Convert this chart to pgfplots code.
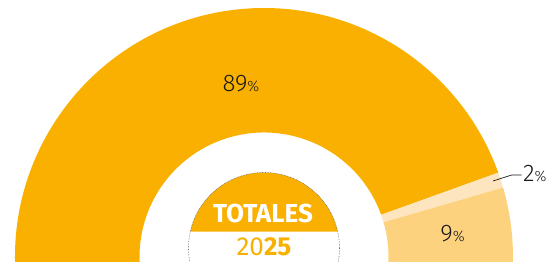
\documentclass[border=0pt]{standalone}
\usepackage{fontspec}
\setmainfont{Fira Sans}
\newfontfamily\lightfont{Fira Sans Light}
\usepackage{pgfplots}
\usepackage{pgfplotstable}
\pgfplotsset{compat=1.18}
\usetikzlibrary{calc}
\definecolor{main}{HTML}{F9B000}
\definecolor{light}{HTML}{FDD27F}
\definecolor{pale}{HTML}{FDE5BF}
\definecolor{txt}{HTML}{1A1A1A}
\pgfplotstableread{
label value
A 89
B 2
C 9
}\datatable
\newcommand{\sector}[3]{%
  \fill[#1] ($(axis cs:0,0)+(#2:249pt)$) arc[start angle=#2,end angle=#3,radius=249pt]
    -- ($(axis cs:0,0)+(#3:124.5pt)$) arc[start angle=#3,end angle=#2,radius=124.5pt] -- cycle;}
\newcommand{\pct}[1]{{\lightfont\fontsize{24}{24}\selectfont #1}{\lightfont\fontsize{15}{15}\selectfont\%}}
\begin{document}
\begin{tikzpicture}
\pgfplotstablegetelem{0}{value}\of\datatable \let\va\pgfplotsretval
\pgfplotstablegetelem{1}{value}\of\datatable \let\vb\pgfplotsretval
\pgfplotstablegetelem{2}{value}\of\datatable \let\vc\pgfplotsretval
\pgfmathsetmacro{\aA}{180-\va*1.8}
\pgfmathsetmacro{\aB}{\aA-\vb*1.8}
\begin{axis}[x=1pt,y=1pt,xmin=-264,xmax=286,ymin=-5,ymax=257,
  hide axis,scale only axis,clip=true]
\sector{main}{185}{\aA}
\sector{pale}{\aA}{\aB}
\sector{light}{\aB}{-5}
\fill[main] ($(axis cs:0,9)+(12.6:75.5pt)$) arc[start angle=12.6,end angle=167.4,radius=75.5pt] -- cycle;
\draw[gray!80!black, densely dotted, line width=0.6pt] (axis cs:0,9) circle[radius=75.5pt];
\node[white,font=\bfseries\fontsize{26}{26}\selectfont,anchor=base,inner sep=0pt] at (axis cs:-1,34) {TOTALES};
\node[main,font=\fontsize{26}{26}\selectfont,anchor=base,inner sep=0pt] at (axis cs:0,1) {20\textbf{25}};
\node[txt,anchor=base,inner sep=0pt] at (axis cs:-23,165) {\pct{\va}};
\node[txt,anchor=base,inner sep=0pt] at (axis cs:188.5,15.5) {\pct{\vc}};
\draw[txt,line width=0.7pt] (axis cs:229,76) -- (axis cs:247.7,82) -- (axis cs:257.7,82);
\node[txt,anchor=base west,inner sep=0pt] at (axis cs:259,75.3) {\pct{\vb}};
\end{axis}
\pgfresetboundingbox
\path (current axis.south west) rectangle (current axis.north east);
\end{tikzpicture}
\end{document}
